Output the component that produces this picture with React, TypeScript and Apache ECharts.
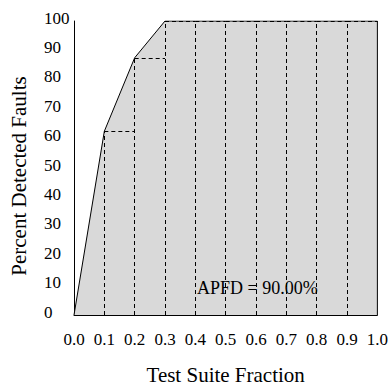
import React, { useEffect, useRef } from "react";
import * as echarts from "echarts";

const fractions = [0.0, 0.1, 0.2, 0.3, 0.4, 0.5, 0.6, 0.7, 0.8, 0.9, 1.0];
const detected = [0, 62.5, 87.5, 100, 100, 100, 100, 100, 100, 100, 100];
const apfdText = "APFD = 90.00%";
const xTitle = "Test Suite Fraction";
const yTitle = "Percent Detected Faults";

const FONT = "Liberation Serif";

export default function App() {
  const ref = useRef<HTMLDivElement>(null);
  useEffect(() => {
    if (!ref.current) return;
    const chart = echarts.init(ref.current, undefined, { renderer: "svg" });
    const curve = fractions.map((x, i) => [x, detected[i]]);
    const marks: any[] = [];
    for (let i = 1; i < fractions.length - 1; i++) {
      const x = fractions[i];
      const y = detected[i];
      marks.push([{ coord: [x, 0] }, { coord: [x, y] }]);
      marks.push([{ coord: [x, y] }, { coord: [fractions[i + 1], y] }]);
    }
    const last = fractions.length - 1;
    chart.setOption({
      animation: false,
      textStyle: { fontFamily: FONT },
      grid: { left: 74, right: 13, top: 21, bottom: 66 },
      xAxis: {
        type: "value",
        min: 0,
        max: 1,
        interval: 0.1,
        name: xTitle,
        nameLocation: "middle",
        nameGap: 49,
        nameTextStyle: { fontFamily: FONT, fontSize: 21, color: "#000" },
        axisLine: { lineStyle: { color: "#000", width: 1 } },
        axisTick: { show: false },
        splitLine: { show: false },
        axisLabel: {
          fontFamily: FONT,
          fontSize: 17,
          color: "#000",
          margin: 16,
          formatter: (v: number) => v.toFixed(1),
        },
      },
      yAxis: {
        type: "value",
        min: 0,
        max: 100,
        interval: 10,
        name: yTitle,
        nameLocation: "middle",
        nameRotate: 90,
        nameGap: 45,
        nameTextStyle: { fontFamily: FONT, fontSize: 21, color: "#000", padding: [0, 16, 0, 0] },
        axisLine: { show: true, lineStyle: { color: "#000", width: 1 } },
        axisTick: { show: false },
        splitLine: { show: false },
        axisLabel: {
          fontFamily: FONT,
          fontSize: 17,
          color: "#000",
          align: "left",
          verticalAlign: "bottom",
          lineHeight: 6,
          margin: 30,
        },
      },
      series: [
        {
          type: "line",
          data: curve,
          symbol: "none",
          lineStyle: { color: "#000", width: 1 },
          areaStyle: { color: "#d9d9d9", opacity: 1 },
          z: 2,
          markLine: {
            silent: true,
            symbol: "none",
            label: { show: false },
            lineStyle: { color: "#000", width: 1, type: [4, 3] },
            data: marks,
          },
        },
        {
          type: "line",
          data: [
            [fractions[last], 0],
            [fractions[last], detected[last]],
          ],
          symbol: "none",
          lineStyle: { color: "#000", width: 1 },
          z: 3,
        },
      ],
      graphic: [
        {
          type: "text",
          left: 197,
          top: 279,
          style: { text: apfdText, fontFamily: FONT, fontSize: 18, fill: "#000" },
          z: 10,
        },
      ],
    });
    return () => chart.dispose();
  }, []);
  return <div ref={ref} style={{ width: 391, height: 390, position: "absolute", left: 0, top: 0 }} />;
}
